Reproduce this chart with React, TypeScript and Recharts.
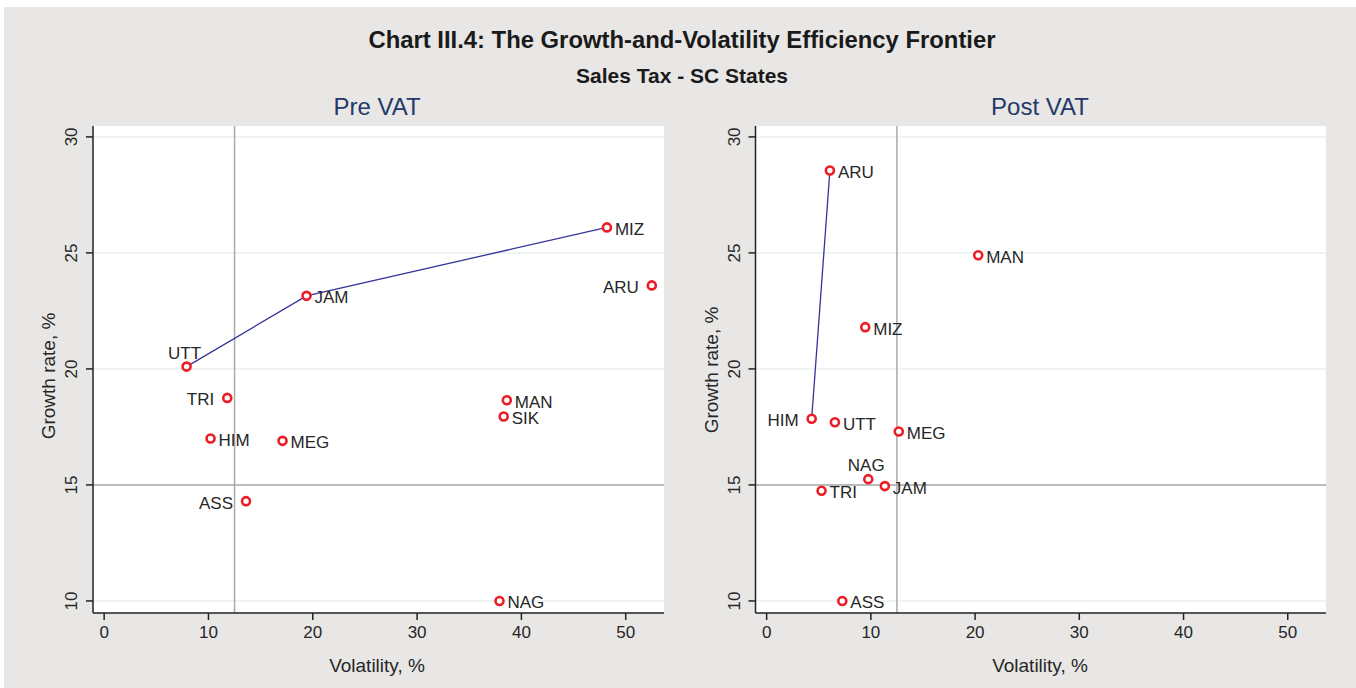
import { ScatterChart, Scatter, XAxis, YAxis, CartesianGrid, ReferenceLine } from 'recharts';

// Pre VAT (volatility %, growth %)
const preStates = ['UTT', 'JAM', 'MIZ', 'ARU', 'TRI', 'HIM', 'MEG', 'MAN', 'SIK', 'ASS', 'NAG'];
const preVolatility = [7.9, 19.4, 48.2, 52.5, 11.8, 10.2, 17.1, 38.6, 38.3, 13.6, 37.9];
const preGrowth = [20.1, 23.15, 26.1, 23.6, 18.75, 17.0, 16.9, 18.65, 17.95, 14.3, 10.0];
const preFrontier = ['UTT', 'JAM', 'MIZ'];

// Post VAT
const postStates = ['ARU', 'MAN', 'MIZ', 'HIM', 'UTT', 'MEG', 'NAG', 'JAM', 'TRI', 'ASS'];
const postVolatility = [6.07, 20.3, 9.46, 4.32, 6.55, 12.68, 9.75, 11.34, 5.27, 7.26];
const postGrowth = [28.55, 24.9, 21.8, 17.85, 17.7, 17.3, 15.25, 14.95, 14.75, 10.0];
const postFrontier = ['HIM', 'ARU'];

const xTicks = [0, 10, 20, 30, 40, 50];
const yTicks = [10, 15, 20, 25, 30];

// where the state label sits, default is right of the marker
const preLabelPos: Record<string, string> = { UTT: 'top', TRI: 'left', ASS: 'left', ARU: 'left' };
const postLabelPos: Record<string, string> = { HIM: 'left', NAG: 'top' };

const FONT = '"Liberation Sans", Arial, Helvetica, sans-serif';
const TEXT = '#262626';
const RED = '#ec1c24';

function toPoints(names: string[], xs: number[], ys: number[], pos: Record<string, string>) {
  return names.map((name, i) => ({ name, x: xs[i], y: ys[i], pos: pos[name] || 'right' }));
}

function Marker(props: any) {
  const { cx, cy, payload } = props;
  let label;
  if (payload.pos === 'left') {
    label = <text x={cx - 13} y={cy + 7.5} textAnchor='end'>{payload.name}</text>;
  } else if (payload.pos === 'top') {
    label = <text x={cx - 2} y={cy - 8} textAnchor='middle'>{payload.name}</text>;
  } else {
    label = <text x={cx + 8} y={cy + 7.5} textAnchor='start'>{payload.name}</text>;
  }
  return (
    <g>
      <circle cx={cx} cy={cy} r={4} fill='#fff' stroke={RED} strokeWidth={2.6} />
      <g fontFamily={FONT} fontSize={17} fill={TEXT}>{label}</g>
    </g>
  );
}

const makeXTick = (baseY: number) => (props: any) => (
  <text x={props.x} y={baseY} textAnchor='middle' fontFamily={FONT} fontSize={17} fill={TEXT}>
    {props.payload.value}
  </text>
);

const makeYTick = (baseX: number) => (props: any) => (
  <text
    x={baseX}
    y={props.y}
    transform={`rotate(-90, ${baseX}, ${props.y})`}
    textAnchor='middle'
    fontFamily={FONT}
    fontSize={17}
    fill={TEXT}
  >
    {props.payload.value}
  </text>
);

interface PanelProps {
  points: { name: string; x: number; y: number; pos: string }[];
  frontier: string[];
  width: number;
  left: number;
  right: number;
  tickX: number;
}

function Panel({ points, frontier, width, left, right, tickX }: PanelProps) {
  const line = frontier.map((n) => points.find((p) => p.name === n)!);
  return (
    <ScatterChart width={width} height={688} margin={{ top: 126, right, bottom: 35, left }}>
      <CartesianGrid vertical={false} horizontalValues={yTicks} fill='#fff' stroke='#e9f0ee' strokeWidth={1.5} />
      <XAxis
        type='number'
        dataKey='x'
        domain={[-1.07, 53.67]}
        ticks={xTicks}
        interval={0}
        allowDataOverflow
        height={40}
        tickSize={7}
        axisLine={{ stroke: '#222', strokeWidth: 1.5 }}
        tickLine={{ stroke: '#222', strokeWidth: 1.5 }}
        tick={makeXTick(638)}
      />
      <YAxis
        type='number'
        dataKey='y'
        domain={[9.48, 30.47]}
        ticks={yTicks}
        interval={0}
        allowDataOverflow
        width={60}
        tickSize={7}
        axisLine={{ stroke: '#222', strokeWidth: 1.5 }}
        tickLine={{ stroke: '#222', strokeWidth: 1.5 }}
        tick={makeYTick(tickX)}
      />
      <ReferenceLine x={12.5} stroke='#a9a9a9' strokeWidth={1.5} />
      <ReferenceLine y={15} stroke='#a9a9a9' strokeWidth={1.5} />
      <Scatter
        data={line}
        isAnimationActive={false}
        line={{ stroke: '#34349a', strokeWidth: 1.3 }}
        shape={() => <g />}
      />
      <Scatter data={points} isAnimationActive={false} shape={Marker} />
    </ScatterChart>
  );
}

export default function App() {
  const pre = toPoints(preStates, preVolatility, preGrowth, preLabelPos);
  const post = toPoints(postStates, postVolatility, postGrowth, postLabelPos);

  return (
    <div style={{ position: 'absolute', left: 0, top: 0, width: 1356, height: 688, background: '#fff', fontFamily: FONT }}>
      <div style={{ position: 'absolute', left: 4, top: 7, width: 1352, height: 681, background: '#e8e7e5' }} />
      <svg width={1356} height={688} style={{ position: 'absolute', left: 0, top: 0 }}>
        <g fontFamily={FONT} fill='#1a1a1a'>
          <text x={682} y={48} textAnchor='middle' fontSize={24} fontWeight='bold' textLength={627} lengthAdjust='spacingAndGlyphs'>
            Chart III.4: The Growth-and-Volatility Efficiency Frontier
          </text>
          <text x={682} y={83} textAnchor='middle' fontSize={20.5} fontWeight='bold' textLength={212} lengthAdjust='spacingAndGlyphs'>
            Sales Tax - SC States
          </text>
        </g>
        <g fontFamily={FONT} fontSize={24} fill='#233a68' textAnchor='middle'>
          <text x={377} y={115}>Pre VAT</text>
          <text x={1040} y={115}>Post VAT</text>
        </g>
        <g fontFamily={FONT} fontSize={19} fill={TEXT} textAnchor='middle'>
          <text x={377} y={672}>Volatility, %</text>
          <text x={1040} y={672}>Volatility, %</text>
          <text x={55} y={376} transform='rotate(-90, 55, 376)'>Growth rate, %</text>
          <text x={718} y={370} transform='rotate(-90, 718, 370)'>Growth rate, %</text>
        </g>
      </svg>
      <div style={{ position: 'absolute', left: 0, top: 0 }}>
        <Panel points={pre} frontier={preFrontier} width={680} left={33} right={16} tickX={77} />
      </div>
      <div style={{ position: 'absolute', left: 680, top: 0 }}>
        <Panel points={post} frontier={postFrontier} width={676} left={15.5} right={30} tickX={60} />
      </div>
    </div>
  );
}
